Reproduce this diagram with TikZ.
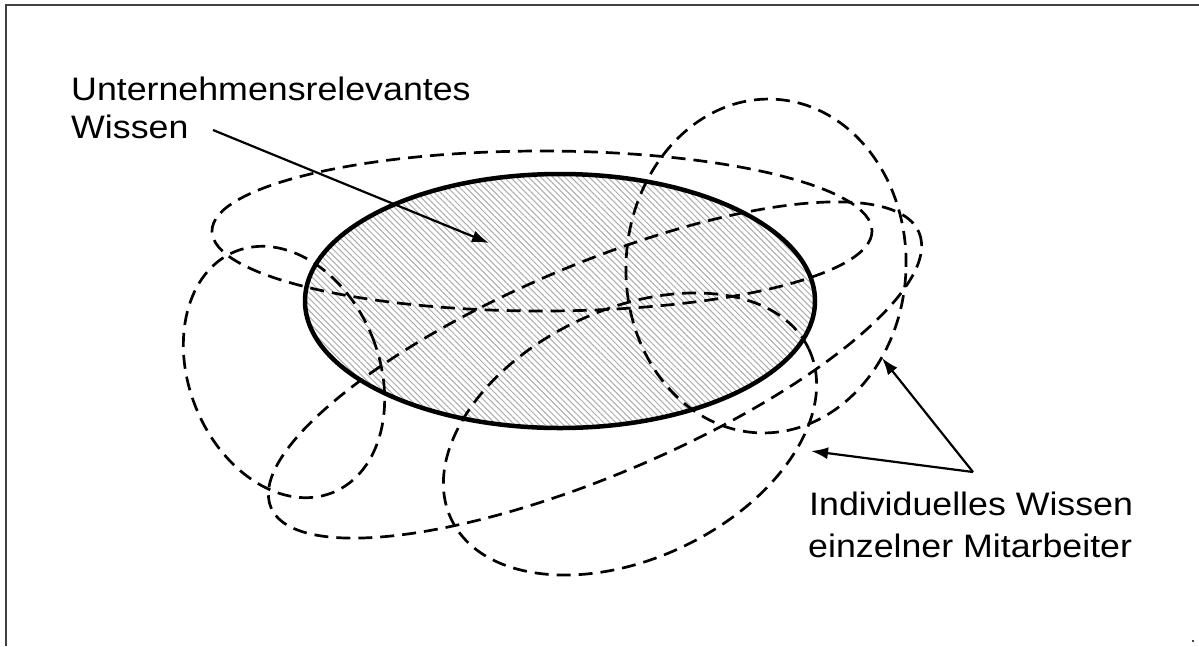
\documentclass[tikz,border=0pt]{standalone}
\usepackage{fontspec}
\newfontfamily\labfont[FakeStretch=1.1]{Liberation Sans}
\usetikzlibrary{arrows.meta,patterns.meta}
\begin{document}
\begin{tikzpicture}[x=1pt,y=-1pt,
  dashedell/.style={line width=2.7pt, dash pattern=on 14pt off 8pt},
  mainell/.style={line width=4.5pt},
  lab/.style={font=\labfont\fontsize{32.5}{38}\selectfont, inner sep=0pt, anchor=base west},
  arr/.style={line width=2.2pt, -{Latex[length=17pt,width=12pt]}},
  frame/.style={line width=1.6pt, draw=black!75}]
\useasboundingbox (0,0) rectangle (1199,646);
\fill[white] (0,0) rectangle (1199,646);
\draw[frame] (6,646) -- (6,5) -- (1199,5);
% hatched main area
\fill[pattern={Lines[angle=-45,distance=4.3pt,line width=1pt]}, pattern color=black!32]
  (560,301) ellipse [x radius=255, y radius=127];
% individual knowledge ellipses
\draw[dashedell] (542,231) ellipse [x radius=330, y radius=80];
\draw[dashedell, shift={(284,372)}, rotate=22] (0,0) ellipse [x radius=95, y radius=130];
\draw[dashedell, shift={(595,370)}, rotate=23] (0,0) ellipse [x radius=352, y radius=105];
\draw[dashedell, shift={(766,266)}, rotate=-3] (0,0) ellipse [x radius=140, y radius=167];
\draw[dashedell, shift={(630,434)}, rotate=25.5] (0,0) ellipse [x radius=198, y radius=124.5];
% main outline
\draw[mainell] (560,301) ellipse [x radius=255, y radius=127];
% labels
\node[lab] (t1a) at (71,100) {Unternehmensrelevantes};
\node[lab] (t1b) at (71,138) {Wissen};
\node[lab] (t2a) at (809,515) {Individuelles Wissen};
\node[lab] (t2b) at (808,557) {einzelner Mitarbeiter};
% arrows
\coordinate (a1s) at (213,130);
\coordinate (a1e) at (489,243);
\coordinate (a2s) at (973,472);
\coordinate (a2e) at (882,358);
\coordinate (a3e) at (811,451);
\draw[arr] (a1s) -- (a1e);
\draw[arr] (a2s) -- (a2e);
\draw[arr] (a2s) -- (a3e);
\fill (1193,641) circle (1.2);
\end{tikzpicture}
\end{document}
